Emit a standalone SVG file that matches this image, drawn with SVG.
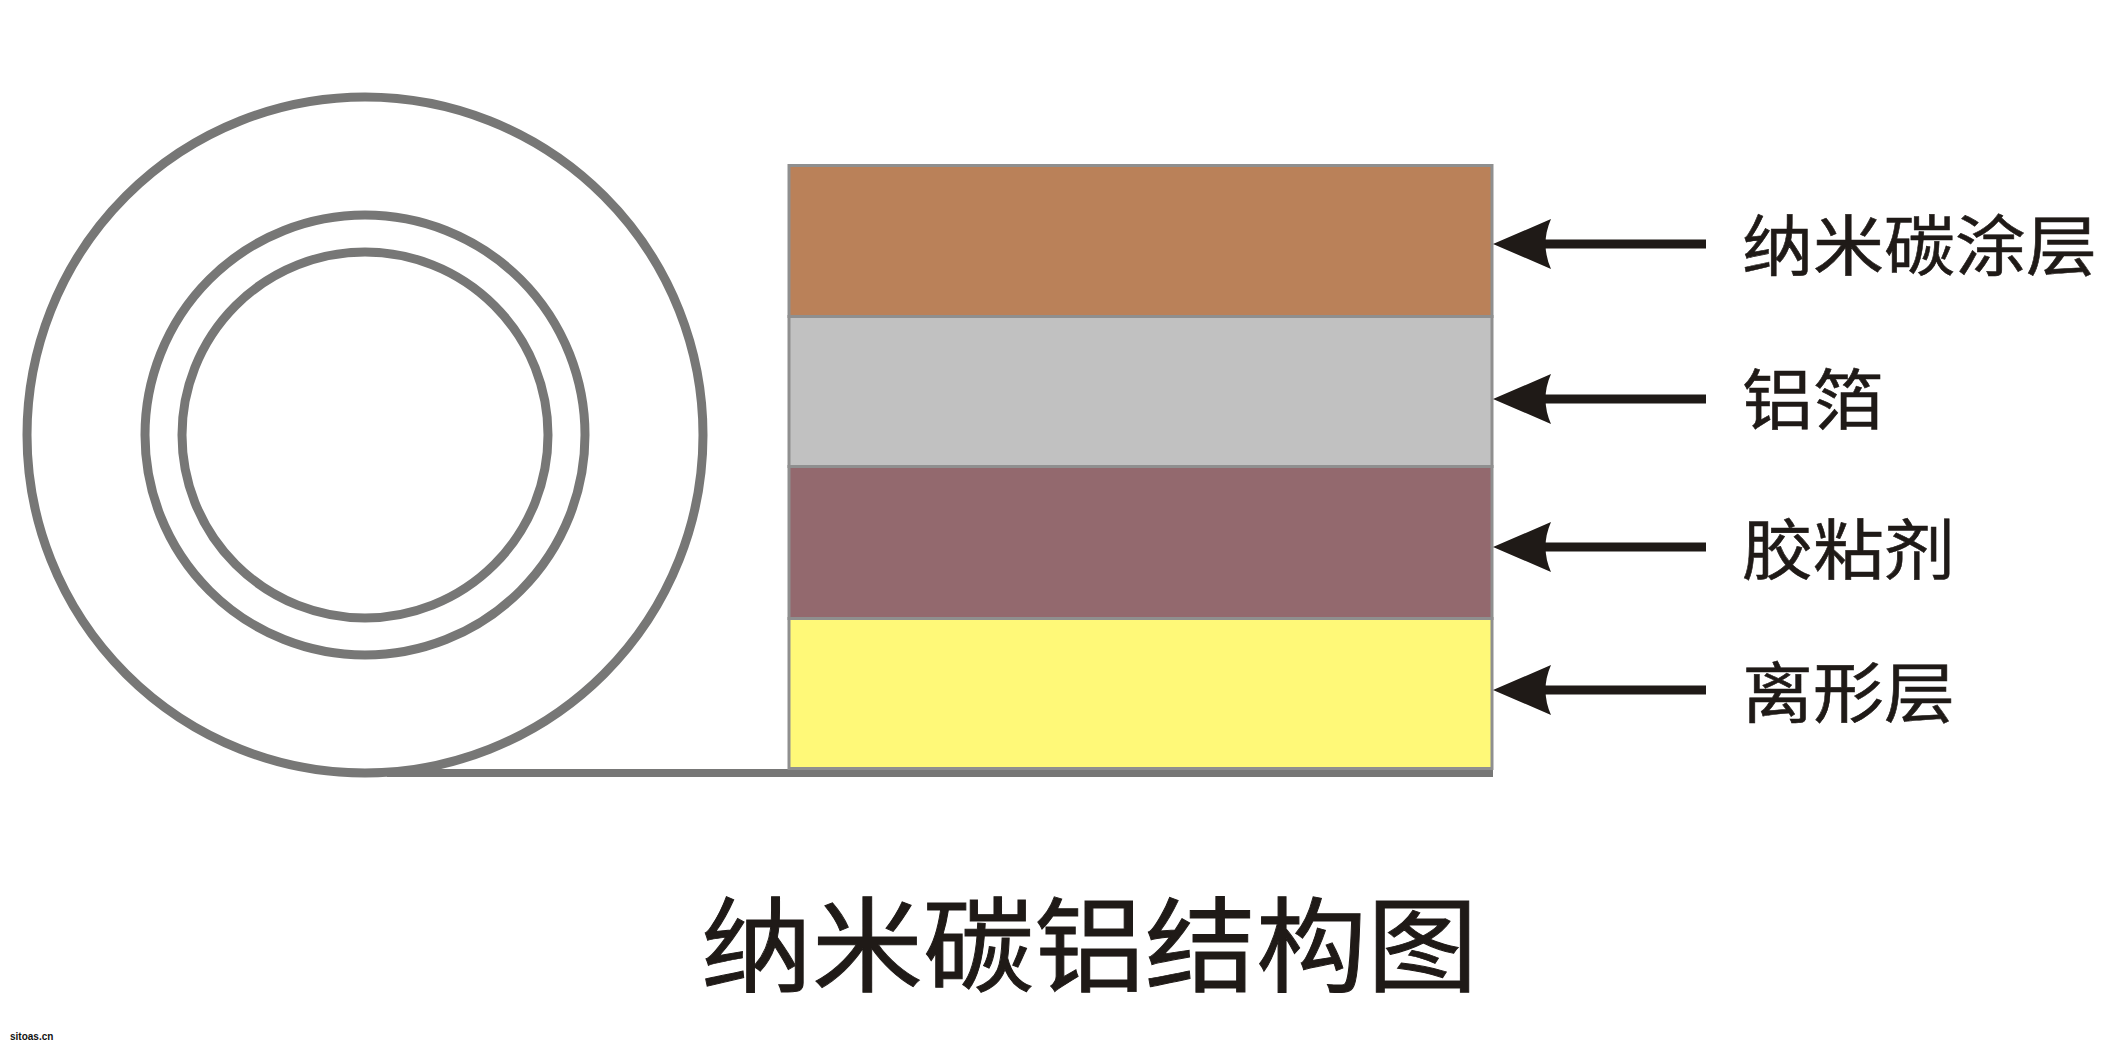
<svg xmlns="http://www.w3.org/2000/svg" width="2123" height="1053" viewBox="0 0 2123 1053">
<style>
.ring{fill:none;stroke:#777776;stroke-width:9}
.layer{stroke:#8f8f8f;stroke-width:3}
.cn{font-family:"Noto Sans CJK SC",sans-serif;fill:#1f1a17;stroke:#1f1a17}
.lab{font-size:71px;stroke-width:.6}
.ttl{font-size:111px;stroke-width:1}
.shaft{stroke:#1f1a17;stroke-width:9;fill:none}
.head{fill:#1f1a17}
</style>
<rect width="2123" height="1053" fill="#fff"/>
<g id="roll">
<circle class="ring" cx="365" cy="435" r="338"/>
<circle class="ring" cx="365" cy="435" r="220"/>
<circle class="ring" cx="365" cy="435" r="183"/>
</g>
<g id="film"><rect x="387" y="769" width="1106" height="8" fill="#777776"/></g>
<g id="layer-coating"><rect class="layer" x="789" y="165.500" width="703" height="151" fill="#ba8159"/></g>
<g id="layer-foil"><rect class="layer" x="789" y="316.500" width="703" height="150" fill="#c1c1c1"/></g>
<g id="layer-adhesive"><rect class="layer" x="789" y="466.500" width="703" height="152" fill="#93696e"/></g>
<g id="layer-release"><rect class="layer" x="789" y="618.500" width="703" height="150" fill="#fff978"/></g>
<g id="connectors">
<path class="shaft" d="M1706 244H1540"/><path class="head" d="M1493 244L1551 219Q1540 244 1551 269Z"/>
<path class="shaft" d="M1706 399H1540"/><path class="head" d="M1493 399L1551 374Q1540 399 1551 424Z"/>
<path class="shaft" d="M1706 547H1540"/><path class="head" d="M1493 547L1551 522Q1540 547 1551 572Z"/>
<path class="shaft" d="M1706 690H1540"/><path class="head" d="M1493 690L1551 665Q1540 690 1551 715Z"/>
</g>
<g id="label-coating"><text class="cn lab" transform="translate(1742 270) scale(1 .93)">纳米碳涂层</text></g>
<g id="label-foil"><text class="cn lab" transform="translate(1742 424) scale(1 .93)">铝箔</text></g>
<g id="label-adhesive"><text class="cn lab" transform="translate(1742 574) scale(1 .93)">胶粘剂</text></g>
<g id="label-release"><text class="cn lab" transform="translate(1742 717) scale(1 .93)">离形层</text></g>
<g id="title"><text class="cn ttl" transform="translate(701 984) scale(1 .93)">纳米碳铝结构图</text></g>
<g id="watermark"><text x="10" y="1040" font-family="Liberation Sans,sans-serif" font-size="10" font-weight="bold" fill="#111">sitoas.cn</text></g>
</svg>
